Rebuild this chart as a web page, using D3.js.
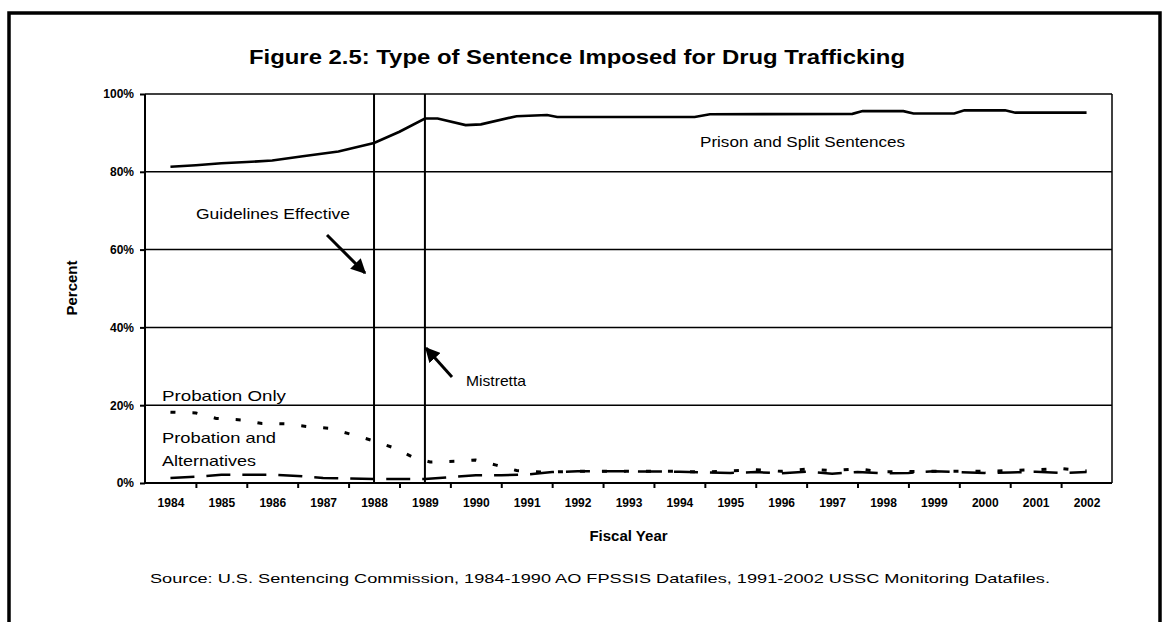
<!DOCTYPE html>
<html>
<head>
<meta charset="utf-8">
<script src="https://cdn.jsdelivr.net/npm/d3@7"></script>
<style>
  body { margin: 0; background: #fff; }
  text { font-family: "Liberation Sans Narrow", "Arial Narrow", "Liberation Sans", Arial, sans-serif; fill: #000; }
</style>
</head>
<body>
<div id="chart"></div>
<script>
// fiscal years on the axis
const years = d3.range(1984, 2003);
const yTicks = [0, 20, 40, 60, 80, 100];

// Prison and Split Sentences
const prisonX = [1984.0, 1984.5, 1985.0, 1985.5, 1986.0, 1986.6, 1987.3, 1988.0, 1988.5, 1989.0, 1989.25, 1989.8, 1990.1, 1990.8, 1991.4, 1991.6, 1994.3, 1994.6, 1997.4, 1997.6, 1998.4, 1998.6, 1999.4, 1999.6, 2000.4, 2000.6, 2002.0];
const prisonY = [81.3, 81.7, 82.2, 82.5, 82.9, 84.0, 85.2, 87.4, 90.3, 93.7, 93.7, 92.0, 92.2, 94.3, 94.6, 94.1, 94.1, 94.8, 94.9, 95.6, 95.6, 95.0, 95.0, 95.8, 95.8, 95.2, 95.2];

// Probation Only
const probX = [1984.0, 1984.5, 1984.9, 1985.4, 1985.8, 1986.25, 1986.7, 1987.1, 1987.5, 1987.95, 1988.4, 1988.75, 1989.1, 1989.6, 1990.0, 1990.4, 1990.8, 1991.3, 1992.0, 1993.0, 1994.0, 1994.5, 1995.0, 1995.5, 1996.0, 1996.5, 1997.0, 1997.5, 1998.0, 1999.0, 2000.0, 2000.5, 2001.0, 2001.5, 2002.0];
const probY = [18.2, 18.0, 16.6, 16.2, 15.3, 15.2, 14.5, 14.1, 12.7, 11.0, 9.0, 6.7, 5.4, 5.6, 5.9, 4.6, 3.2, 2.8, 3.0, 3.0, 3.0, 2.8, 3.1, 3.4, 3.0, 3.6, 3.2, 3.6, 2.9, 3.0, 3.0, 3.2, 3.4, 3.7, 3.1];

// Probation and Alternatives
const altX = [1984.0, 1984.5, 1985.0, 1985.5, 1986.0, 1986.5, 1987.0, 1987.5, 1988.0, 1988.5, 1989.0, 1989.5, 1990.0, 1990.5, 1991.0, 1991.5, 1992.0, 1993.0, 1994.0, 1995.0, 1995.5, 1996.0, 1996.5, 1997.0, 1997.5, 1998.0, 1998.5, 1999.0, 1999.5, 2000.0, 2000.5, 2001.0, 2001.5, 2002.0];
const altY = [1.3, 1.6, 2.1, 2.1, 2.1, 1.8, 1.3, 1.2, 1.0, 1.0, 1.0, 1.5, 2.0, 2.0, 2.2, 2.8, 3.0, 3.0, 2.9, 2.6, 2.8, 2.5, 2.9, 2.4, 2.8, 2.5, 2.6, 3.0, 2.8, 2.6, 2.7, 2.9, 2.6, 2.8];

const eventYears = [1988, 1989];

const width = 1167, height = 622;
const margin = {left: 145, right: 55, top: 94, bottom: 139};

const svg = d3.select("#chart").append("svg")
    .attr("width", width)
    .attr("height", height);

// outer frame
svg.append("rect")
    .attr("x", 9).attr("y", 13)
    .attr("width", 1151).attr("height", 640)
    .attr("fill", "none").attr("stroke", "#000").attr("stroke-width", 3.5);

const x = d3.scaleLinear()
    .domain([1983.5, 2002.5])
    .range([margin.left, width - margin.right]);
const y = d3.scaleLinear()
    .domain([0, 100])
    .range([height - margin.bottom, margin.top]);

// title
svg.append("text")
    .attr("x", 577).attr("y", 64)
    .attr("text-anchor", "middle")
    .attr("font-size", 20).attr("font-weight", "bold")
    .attr("textLength", 656).attr("lengthAdjust", "spacingAndGlyphs")
    .text("Figure 2.5: Type of Sentence Imposed for Drug Trafficking");

// horizontal gridlines
svg.append("g").selectAll("line")
    .data(yTicks.slice(1))
    .join("line")
    .attr("x1", x.range()[0]).attr("x2", x.range()[1])
    .attr("y1", d => y(d)).attr("y2", d => y(d))
    .attr("stroke", "#000").attr("stroke-width", 1.5);

// right border of the plot
svg.append("line")
    .attr("x1", x.range()[1]).attr("x2", x.range()[1])
    .attr("y1", y(0)).attr("y2", y(100))
    .attr("stroke", "#000").attr("stroke-width", 1.5);

// y axis
const yAxis = svg.append("g")
    .attr("transform", `translate(${margin.left},0)`)
    .call(d3.axisLeft(y).tickValues(yTicks).tickSize(5).tickPadding(6).tickFormat(d => d + "%"));
yAxis.selectAll("path, line").attr("stroke", "#000").attr("stroke-width", 2);
yAxis.selectAll("text").attr("font-size", 12).attr("font-weight", "bold");
yAxis.select(".domain").attr("d", `M0,${y(0)}V${y(100)}`);

// x axis: ticks between categories, labels at the centres
const xAxis = svg.append("g")
    .attr("transform", `translate(0,${y(0)})`)
    .call(d3.axisBottom(x).tickValues(years.slice(0, -1).map(d => d + 0.5)).tickSize(5).tickFormat(""));
xAxis.selectAll("path, line").attr("stroke", "#000").attr("stroke-width", 2);
xAxis.select(".domain").attr("d", `M${x.range()[0]},0H${x.range()[1]}`);

const xLabels = svg.append("g")
    .attr("transform", `translate(0,${y(0)})`)
    .call(d3.axisBottom(x).tickValues(years).tickSize(0).tickPadding(15).tickFormat(d3.format("d")));
xLabels.select(".domain").remove();
xLabels.selectAll("text").attr("font-size", 12).attr("font-weight", "bold");

// event lines
svg.append("g").selectAll("line")
    .data(eventYears)
    .join("line")
    .attr("x1", d => x(d)).attr("x2", d => x(d))
    .attr("y1", y(0)).attr("y2", y(100))
    .attr("stroke", "#000").attr("stroke-width", 2);

const line = d3.line()
    .x(d => x(d[0]))
    .y(d => y(d[1]));

svg.append("path")
    .datum(d3.zip(prisonX, prisonY))
    .attr("d", line)
    .attr("fill", "none").attr("stroke", "#000").attr("stroke-width", 2.6);

svg.append("path")
    .datum(d3.zip(altX, altY))
    .attr("d", line)
    .attr("fill", "none").attr("stroke", "#000").attr("stroke-width", 2.5)
    .attr("stroke-dasharray", "24,12");

svg.append("path")
    .datum(d3.zip(probX, probY))
    .attr("d", line)
    .attr("fill", "none").attr("stroke", "#000").attr("stroke-width", 3)
    .attr("stroke-dasharray", "5,17");

// axis titles
svg.append("text")
    .attr("transform", "translate(77,288) rotate(-90)")
    .attr("text-anchor", "middle")
    .attr("font-size", 15).attr("font-weight", "bold")
    .text("Percent");

svg.append("text")
    .attr("x", (x.range()[0] + x.range()[1]) / 2).attr("y", 541)
    .attr("text-anchor", "middle")
    .attr("font-size", 15).attr("font-weight", "bold")
    .text("Fiscal Year");

svg.append("text")
    .attr("x", 600).attr("y", 583)
    .attr("text-anchor", "middle")
    .attr("font-size", 13)
    .attr("textLength", 900).attr("lengthAdjust", "spacingAndGlyphs")
    .text("Source: U.S. Sentencing Commission, 1984-1990 AO FPSSIS Datafiles, 1991-2002 USSC Monitoring Datafiles.");

// annotations
const notes = [
    {t: "Prison and Split Sentences", x: 700, y: 147, w: 205},
    {t: "Guidelines Effective", x: 196, y: 219, w: 154},
    {t: "Mistretta", x: 466, y: 386, w: 60},
    {t: "Probation Only", x: 162, y: 401, w: 124},
    {t: "Probation and", x: 162, y: 443, w: 114},
    {t: "Alternatives", x: 162, y: 466, w: 94}
];
svg.append("g").selectAll("text")
    .data(notes)
    .join("text")
    .attr("x", d => d.x).attr("y", d => d.y)
    .attr("font-size", 14.5)
    .attr("textLength", d => d.w).attr("lengthAdjust", "spacingAndGlyphs")
    .text(d => d.t);

svg.append("defs").append("marker")
    .attr("id", "head")
    .attr("viewBox", "0 0 10 10")
    .attr("refX", 9).attr("refY", 5)
    .attr("markerWidth", 5).attr("markerHeight", 5)
    .attr("orient", "auto")
    .append("path").attr("d", "M0,0L10,5L0,10z").attr("fill", "#000");

const arrows = [[327, 235, 365, 273], [452, 377, 426, 348]];
svg.append("g").selectAll("line")
    .data(arrows)
    .join("line")
    .attr("x1", d => d[0]).attr("y1", d => d[1])
    .attr("x2", d => d[2]).attr("y2", d => d[3])
    .attr("stroke", "#000").attr("stroke-width", 3)
    .attr("marker-end", "url(#head)");
</script>
</body>
</html>
